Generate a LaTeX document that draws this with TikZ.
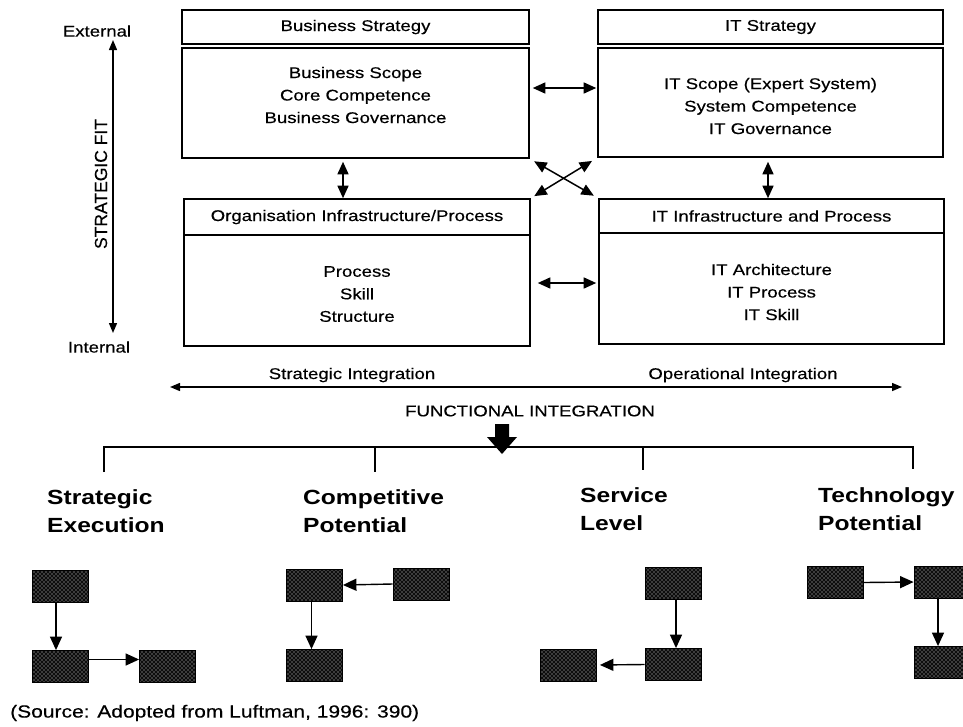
\documentclass[tikz,border=0pt]{standalone}
\usepackage{fontspec}
\setmainfont{Liberation Sans}[FakeStretch=1.2, UprightFeatures={FakeBold=0.35}]
\newfontfamily\plainsans{Liberation Sans}[FakeBold=0.35]
\usetikzlibrary{arrows.meta,patterns}

% white dot screen used for the small shaded blocks
\pgfdeclarepatternformonly{halftone}{\pgfqpoint{-1pt}{-1pt}}{\pgfqpoint{3pt}{3pt}}{\pgfqpoint{4pt}{4pt}}{%
  \pgfpathcircle{\pgfqpoint{0pt}{0pt}}{0.65pt}%
  \pgfpathcircle{\pgfqpoint{2pt}{2pt}}{0.65pt}%
  \pgfusepath{fill}}

\begin{document}
\begin{tikzpicture}[x=1pt,y=-1pt,
  panel/.style={draw, line width=1.6pt, inner sep=0pt},
  hdr/.style={panel, font=\fontsize{15.5}{18}\selectfont},
  txt/.style={inner sep=0pt, align=center, font=\fontsize{15.5}{22.5}\selectfont},
  plain/.style={inner sep=0pt, font=\fontsize{15.5}{18}\selectfont},
  dbl/.style={{Triangle[length=12.5pt,width=11pt]}-{Triangle[length=12.5pt,width=11pt]}, line width=1.5pt},
  axis/.style={{Triangle[length=10pt,width=8pt]}-{Triangle[length=10pt,width=8pt]}, line width=1.4pt},
  blk/.style={draw=black, line width=0.8pt, preaction={fill=black!95}, pattern=halftone,
    pattern color=white!88!black, minimum width=56pt, minimum height=32pt, inner sep=0pt},
  flow/.style={-{Triangle[length=13.5pt,width=12pt]}, line width=1.4pt},
  lbl/.style={inner sep=0pt, align=left, anchor=west, font=\bfseries\fontsize{20.5}{28}\selectfont}]

\useasboundingbox (0,0) rectangle (963,726);
\fill[white] (0,0) rectangle (963,726);

% ---- strategy boxes ----
\node[hdr, minimum width=347pt, minimum height=34pt] (bsh) at (355.5,27) {Business Strategy};
\node[panel, minimum width=347pt, minimum height=110pt] (bsb) at (355.5,103) {};
\node[txt] (bst) at (355.5,95) {Business Scope\\Core Competence\\Business Governance};

\node[hdr, minimum width=345pt, minimum height=34pt] (ith) at (770.5,27) {IT Strategy};
\node[panel, minimum width=345pt, minimum height=109pt] (itb) at (770.5,102.5) {};
\node[txt] (itt) at (770.5,106) {IT Scope (Expert System)\\System Competence\\IT Governance};

% ---- infrastructure boxes ----
\node[hdr, minimum width=346pt, minimum height=36pt] (orgh) at (357,217) {Organisation Infrastructure/Process};
\node[panel, minimum width=346pt, minimum height=111pt] (orgb) at (357,290.5) {};
\node[txt] (orgt) at (357,294) {Process\\Skill\\Structure};

\node[hdr, minimum width=345pt, minimum height=34pt] (itih) at (771.5,216) {IT Infrastructure and Process};
\node[panel, minimum width=345pt, minimum height=111pt] (itib) at (771.5,288.5) {};
\node[txt] (itit) at (771.5,292) {IT Architecture\\IT Process\\IT Skill};

% ---- alignment arrows ----
\draw[dbl, shorten <=3pt, shorten >=1pt] (bsb.east |- 0,88) -- (itb.west |- 0,88);
\draw[dbl, shorten <=7pt, shorten >=2pt] (orgb.east |- 0,283) -- (itib.west |- 0,283);
\draw[dbl, shorten <=3pt] (bsb.south -| 343,0) -- (orgh.north -| 343,0);
\draw[dbl, shorten <=4pt] (itb.south -| 768,0) -- (itih.north -| 768,0);
\draw[dbl, shorten <=5pt, shorten >=5pt] (bsb.south east) -- (itih.north west);
\draw[dbl, shorten <=4pt, shorten >=6pt] (orgh.north east) -- (itb.south west);

% ---- strategic fit axis ----
\node[plain] (ext) at (97,31) {External};
\node[plain] (int) at (99,347) {Internal};
\node[inner sep=0pt, rotate=90, font=\plainsans\fontsize{17.5}{20}\selectfont] (fit) at (101,184) {STRATEGIC FIT};
\coordinate (axtop) at (113,40);
\coordinate (axbot) at (113,333);
\draw[axis] (axtop) -- (axbot);

% ---- integration axis ----
\node[plain] (si) at (352,375) {Strategic Integration};
\node[plain] (oi) at (743,375) {Operational Integration};
\coordinate (intl) at (170,387);
\coordinate (intr) at (902,387);
\draw[axis] (intl) -- (intr);
\node[plain] (fi) at (530,411) {FUNCTIONAL INTEGRATION};

% heavy downward arrow
\fill (495,424) -- (509,424) -- (509,437) -- (517,437) -- (502,454) -- (487,437) -- (495,437) -- cycle;

% branch line
\coordinate (b1) at (104,447);
\coordinate (b2) at (375,447);
\coordinate (b3) at (643,447);
\coordinate (b4) at (913,447);
\coordinate (b1e) at (104,472);
\coordinate (b2e) at (375,472);
\coordinate (b3e) at (643,470);
\coordinate (b4e) at (913,469);
\draw[line width=1.4pt] (b1e) -- (b1) -- (b4) -- (b4e);
\draw[line width=1.4pt] (b2) -- (b2e);
\draw[line width=1.4pt] (b3) -- (b3e);

% ---- alignment perspectives ----
\node[lbl] (se) at (47,511) {Strategic\\Execution};
\node[lbl] (cp) at (303,511) {Competitive\\Potential};
\node[lbl] (sl) at (580,509) {Service\\Level};
\node[lbl] (tp) at (818,509) {Technology\\Potential};

% strategic execution
\node[blk] (se1) at (60,586) {};
\node[blk] (se2) at (60,666.5) {};
\node[blk] (se3) at (167.5,666.5) {};
\draw[flow] ([xshift=-4pt]se1.south) -- ([xshift=-4pt]se2.north);
\draw[flow] ([yshift=7pt]se2.east) -- ([yshift=7pt]se3.west);

% competitive potential
\node[blk] (cp1) at (314.5,585) {};
\node[blk] (cp2) at (421,584) {};
\node[blk] (cp3) at (314.5,665.5) {};
\draw[flow] (cp2.west) -- (cp1.east);
\draw[flow] ([xshift=-3pt]cp1.south) -- ([xshift=-3pt]cp3.north);

% service level
\node[blk] (sl1) at (673,583) {};
\node[blk] (sl2) at (673,664.5) {};
\node[blk] (sl3) at (568.5,665) {};
\draw[flow] ([xshift=3pt]sl1.south) -- ([xshift=3pt]sl2.north);
\draw[flow, shorten >=3pt] (sl2.west) -- (sl3.east);

% technology potential
\node[blk] (tp1) at (835.5,582.5) {};
\node[blk] (tp2) at (942,582) {};
\node[blk] (tp3) at (942,662.5) {};
\draw[flow] (tp1.east) -- (tp2.west);
\draw[flow] ([xshift=-4pt]tp2.south) -- ([xshift=-4pt]tp3.north);

% ---- source ----
\node[inner sep=0pt, anchor=west, font=\fontsize{17.5}{20}\selectfont] (src) at (10,713) {(Source: Adopted from Luftman, 1996: 390)};
\end{tikzpicture}
\end{document}
